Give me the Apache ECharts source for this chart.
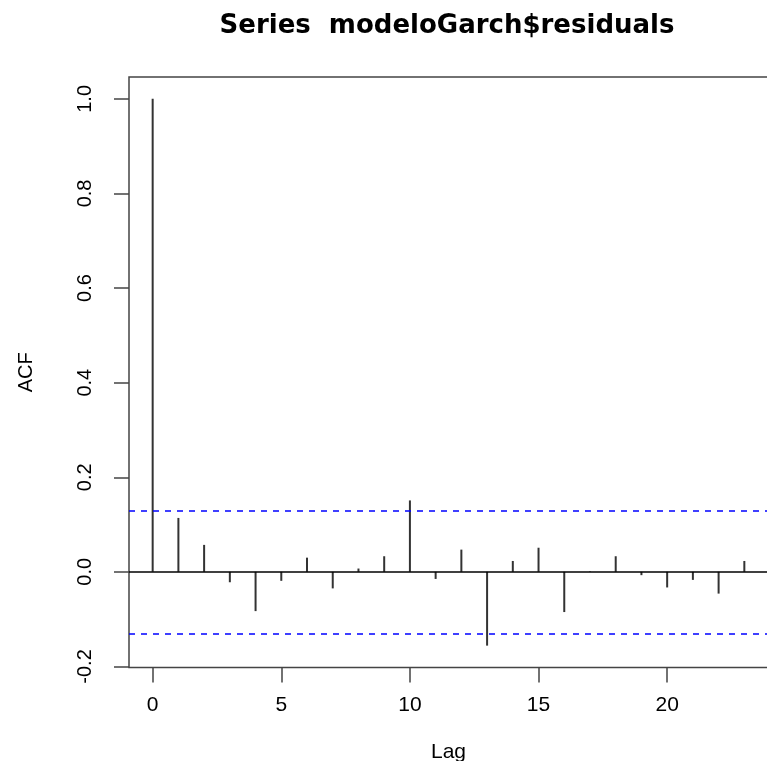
<!DOCTYPE html>
<html>
<head>
<meta charset="utf-8">
<script src="https://cdn.jsdelivr.net/npm/echarts@6/dist/echarts.min.js"></script>
<style>html,body{margin:0;padding:0;background:#fff}#c{width:767px;height:761px}</style>
</head>
<body>
<div id="c"></div>
<script>
var lags = [0,1,2,3,4,5,6,7,8,9,10,11,12,13,14,15,16,17,18,19,20,21,22,23];
var acfValues = [1.0, 0.114, 0.057, -0.022, -0.083, -0.019, 0.030, -0.035, 0.007, 0.033, 0.151, -0.015, 0.047, -0.156, 0.023, 0.051, -0.085, 0.001, 0.033, -0.007, -0.033, -0.017, -0.046, 0.023];
var confLimit = 0.132;
var xTicks = [0, 5, 10, 15, 20];
var yTicks = [-0.2, 0.0, 0.2, 0.4, 0.6, 0.8, 1.0];
var titleText = 'Series  modeloGarch$residuals';

// R-style 4% axis extension
var yLo = Math.min(Math.min.apply(null, acfValues), -confLimit);
var yHi = Math.max(Math.max.apply(null, acfValues), confLimit);
var yPad = (yHi - yLo) * 0.04;
var xLo = lags[0], xHi = lags[lags.length - 1];
var xPad = (xHi - xLo) * 0.04;

var chart = echarts.init(document.getElementById('c'), null, {renderer: 'canvas'});
var font = 'Liberation Sans, Arial, sans-serif';
chart.setOption({
  animation: false,
  backgroundColor: '#fff',
  title: {
    text: titleText,
    left: 442, top: 8, textAlign: 'center',
    textStyle: {fontFamily: 'DejaVu Sans', fontWeight: 'bold', fontSize: 26, color: '#000'}
  },
  grid: {
    left: 129, top: 77, width: 639, height: 590.5,
    outerBoundsMode: 'none', containLabel: false,
    show: true, borderColor: '#444', borderWidth: 1.5, backgroundColor: 'transparent'
  },
  xAxis: {
    type: 'value', min: xLo - xPad, max: xHi + xPad,
    name: 'Lag', nameLocation: 'middle', nameGap: 74,
    nameTextStyle: {fontFamily: font, fontSize: 21, color: '#000'},
    axisLine: {show: false, onZero: false},
    splitLine: {show: false},
    axisTick: {show: true, length: 15, customValues: xTicks, lineStyle: {color: '#444', width: 1.5}},
    axisLabel: {customValues: xTicks, margin: 27, fontFamily: font, fontSize: 21, color: '#000'}
  },
  yAxis: {
    type: 'value', min: yLo - yPad, max: yHi + yPad,
    name: 'ACF', nameLocation: 'middle', nameGap: 93, nameRotate: 90,
    nameTextStyle: {fontFamily: font, fontSize: 20, color: '#000'},
    axisLine: {show: false, onZero: false},
    splitLine: {show: false},
    axisTick: {show: true, length: 15, customValues: yTicks, lineStyle: {color: '#444', width: 1.5}},
    axisLabel: {customValues: yTicks, rotate: 90, margin: 34, fontFamily: font, fontSize: 20, color: '#000',
      formatter: function (v) { return v.toFixed(1); }}
  },
  series: [{
    type: 'bar',
    barWidth: 2,
    itemStyle: {color: '#333'},
    data: lags.map(function (l, i) { return [l, acfValues[i]]; }),
    markLine: {
      silent: true, symbol: 'none', animation: false,
      label: {show: false},
      data: [
        {yAxis: 0, lineStyle: {color: '#000', width: 1.5, type: 'solid'}},
        {yAxis: confLimit, lineStyle: {color: '#0000ff', width: 1.5, type: [6, 6]}},
        {yAxis: -confLimit, lineStyle: {color: '#0000ff', width: 1.5, type: [6, 6]}}
      ]
    }
  }]
});
</script>
</body>
</html>
